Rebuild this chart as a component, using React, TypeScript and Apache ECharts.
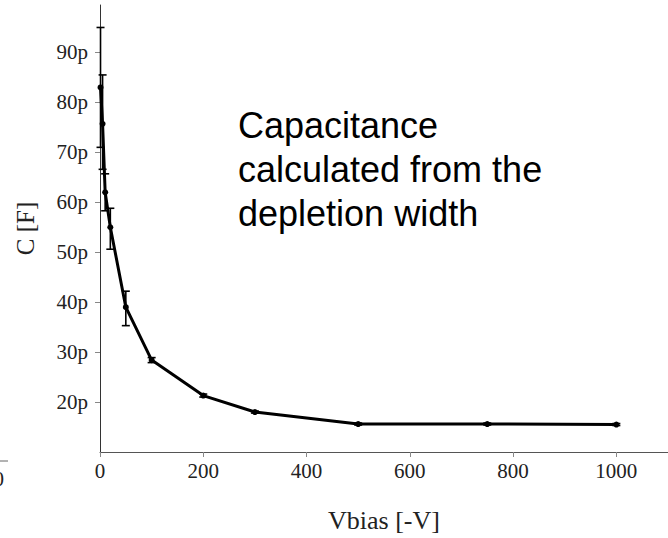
import React, { useEffect, useRef } from "react";
import * as echarts from "echarts";

// Bias voltage [-V]
const voltages = [1, 5, 10, 20, 50, 100, 200, 300, 500, 750, 1000];
// Capacitance in pF
const capacitance = [83, 75.7, 62, 55, 39, 28.4, 21.3, 18.0, 15.6, 15.6, 15.5];
const errLow = [71, 66.6, 58.3, 50.6, 35.3, 27.9, 21.0, 17.8, 15.4, 15.4, 15.3];
const errHigh = [95, 85.5, 65.7, 58.8, 42.2, 28.9, 21.6, 18.2, 15.8, 15.8, 15.7];

const xTicks = [0, 200, 400, 600, 800, 1000];
const yTicks = [20, 30, 40, 50, 60, 70, 80, 90];

const annotation = "Capacitance\ncalculated from the\ndepletion width";

export default function App() {
  const ref = useRef<HTMLDivElement>(null);
  useEffect(() => {
    if (!ref.current) return;
    const chart = echarts.init(ref.current, null, { renderer: "svg" });
    const serif = "Liberation Serif";
    const lineData = voltages.map((v, i) => [v, capacitance[i]]);
    const errData = voltages.map((v, i) => [v, errLow[i], errHigh[i]]);
    chart.setOption({
      animation: false,
      backgroundColor: "#ffffff",
      grid: { left: 100, top: 5, bottom: 77, right: -12, containLabel: false },
      xAxis: {
        type: "value",
        min: 0,
        max: 1100,
        name: "Vbias [-V]",
        nameLocation: "middle",
        nameGap: 55,
        nameTextStyle: { fontFamily: serif, fontSize: 26, color: "#222" },
        axisLine: { show: true, lineStyle: { color: "#555", width: 1 } },
        axisTick: { show: true, length: 5, customValues: xTicks, lineStyle: { color: "#888" } },
        axisLabel: {
          customValues: xTicks,
          fontFamily: serif,
          fontSize: 21,
          color: "#222",
          margin: 8,
          formatter: (v: number) => String(v),
        },
        splitLine: { show: false },
      },
      yAxis: {
        type: "value",
        min: 10,
        max: 99.5,
        name: "C [F]",
        nameLocation: "middle",
        nameGap: 62,
        nameTextStyle: { fontFamily: serif, fontSize: 25, color: "#222" },
        axisLine: { show: true, lineStyle: { color: "#333", width: 1 } },
        axisTick: { show: true, length: 5, customValues: yTicks, lineStyle: { color: "#888" } },
        axisLabel: {
          customValues: yTicks,
          fontFamily: serif,
          fontSize: 21,
          color: "#222",
          margin: 12,
          formatter: (v: number) => `${v}p`,
        },
        splitLine: { show: false },
      },
      graphic: [
        {
          type: "line",
          shape: { x1: 0, y1: 461, x2: 8, y2: 461 },
          style: { stroke: "#666", lineWidth: 1 },
        },
        {
          type: "text",
          x: 4,
          y: 479,
          style: {
            text: "1000",
            font: `21px "${serif}"`,
            fill: "#222",
            align: "right",
            verticalAlign: "middle",
          },
        },
        {
          type: "text",
          x: 238,
          y: 103,
          style: {
            text: annotation,
            font: `36px "Liberation Sans", Arial, sans-serif`,
            fill: "#000",
            lineHeight: 44,
            align: "left",
            verticalAlign: "top",
          },
        },
      ],
      series: [
        {
          type: "custom",
          data: errData,
          encode: { x: 0, y: [1, 2] },
          z: 3,
          renderItem: (params: any, api: any) => {
            const x = api.value(0);
            const lo = api.coord([x, api.value(1)]);
            const hi = api.coord([x, api.value(2)]);
            const hw = 4;
            const st = { stroke: "#000", lineWidth: 1.6 };
            return {
              type: "group",
              children: [
                { type: "line", shape: { x1: hi[0], y1: hi[1], x2: lo[0], y2: lo[1] }, style: st },
                { type: "line", shape: { x1: hi[0] - hw, y1: hi[1], x2: hi[0] + hw, y2: hi[1] }, style: st },
                { type: "line", shape: { x1: lo[0] - hw, y1: lo[1], x2: lo[0] + hw, y2: lo[1] }, style: st },
              ],
            };
          },
        },
        {
          type: "line",
          data: lineData,
          z: 4,
          symbol: "circle",
          symbolSize: 6,
          lineStyle: { color: "#000", width: 3 },
          itemStyle: { color: "#000" },
        },
      ],
    });
    return () => chart.dispose();
  }, []);
  return (
    <div
      ref={ref}
      style={{ position: "fixed", left: 0, top: 0, width: 668, height: 538, background: "#fff" }}
    />
  );
}
